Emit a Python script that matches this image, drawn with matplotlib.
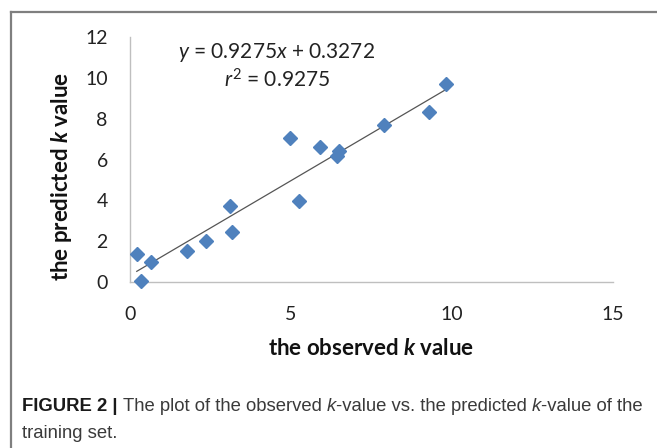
import matplotlib
matplotlib.use("Agg")
import matplotlib.pyplot as plt
from matplotlib.lines import Line2D
import numpy as np

# ---- data ----
observed = [0.21, 0.33, 0.65, 1.77, 2.37, 3.12, 3.18, 4.98, 5.26, 5.90, 6.48, 6.44, 7.89, 9.29, 9.80]
predicted = [1.37, 0.06, 1.00, 1.53, 2.02, 3.74, 2.43, 7.04, 3.99, 6.60, 6.44, 6.18, 7.70, 8.35, 9.70]
slope = 0.9275
intercept = 0.3272
r2 = 0.9275
x_ticks = [0, 5, 10, 15]
y_ticks = [0, 2, 4, 6, 8, 10, 12]

plt.rcParams['font.family'] = ['Lato', 'DejaVu Sans']
plt.rcParams['mathtext.fontset'] = 'custom'
plt.rcParams['mathtext.rm'] = 'Lato'
plt.rcParams['mathtext.it'] = 'Lato:italic'
plt.rcParams['mathtext.bf'] = 'Lato:bold'
plt.rcParams['mathtext.bfit'] = 'Lato:italic:bold'

W, H = 657, 448
fig = plt.figure(figsize=(W / 100, H / 100), dpi=100)

# outer frame (top and left edges visible)
frame_col = '#7f7f7f'
fig.add_artist(Line2D([11 / W, 1.0], [1 - 12 / H, 1 - 12 / H], color=frame_col, lw=1.6))
fig.add_artist(Line2D([11 / W, 11 / W], [1 - 12 / H, 0.0], color=frame_col, lw=1.6))

ax = fig.add_axes([130 / W, 1 - 282 / H, (613 - 130) / W, (282 - 37) / H])
ax.set_xlim(0, 15)
ax.set_ylim(0, 12)
ax.set_xticks(x_ticks)
ax.set_yticks(y_ticks)
for s in ['top', 'right']:
    ax.spines[s].set_visible(False)
for s in ['left', 'bottom']:
    ax.spines[s].set_color('#bfbfbf')
    ax.spines[s].set_linewidth(1.0)
ax.tick_params(axis='both', length=0, labelsize=14, colors='#222222')
ax.tick_params(axis='y', pad=16)
ax.tick_params(axis='x', pad=17)

# trend line
xs = np.array([min(observed), max(observed)])
ax.plot(xs, slope * xs + intercept, color='#555555', lw=0.9, zorder=2)
ax.plot(observed, predicted, linestyle='none', marker='D', markersize=6.8,
        color='#4f81bd', markeredgecolor='#4f81bd', zorder=3, clip_on=False)

fig.text(277 / W, 1 - 52 / H, r'$y$ = %.4f$x$ + %.4f' % (slope, intercept),
         ha='center', va='center', fontsize=15, color='#222222')
fig.text(277 / W, 1 - 80 / H, r'$r^{\mathrm{2}}$ = %.4f' % r2,
         ha='center', va='center', fontsize=15, color='#222222')

fig.text(371.5 / W, 1 - 348 / H, r'the observed $\mathbfit{k}$ value', ha='center', va='center',
         fontsize=16, fontweight='bold', color='#111111')
fig.text(61 / W, 1 - 176 / H, r'the predicted $\mathbfit{k}$ value', ha='center', va='center',
         rotation=90, fontsize=16, fontweight='bold', color='#111111')

# caption built from fragments
cap_font = ['Liberation Sans', 'DejaVu Sans']
cap_col = '#3a3a3a'
cap_size = 13.3
renderer = fig.canvas.get_renderer()


def rich_line(x_px, y_px, parts):
    x = x_px / W
    for txt, kw in parts:
        t = fig.text(x, 1 - y_px / H, txt, ha='left', va='baseline', fontsize=cap_size,
                     color=kw.pop('color', cap_col), family=cap_font, **kw)
        bb = t.get_window_extent(renderer=renderer)
        x += bb.width / W


rich_line(22, 411, [
    ('FIGURE 2 | ', dict(fontweight='bold', color='#1a1a1a')),
    ('The plot of the observed ', {}),
    ('k', dict(style='italic')),
    ('-value vs. the predicted ', {}),
    ('k', dict(style='italic')),
    ('-value of the', {}),
])
rich_line(22, 438, [('training set.', {})])

fig.savefig('out.png', dpi=100)
